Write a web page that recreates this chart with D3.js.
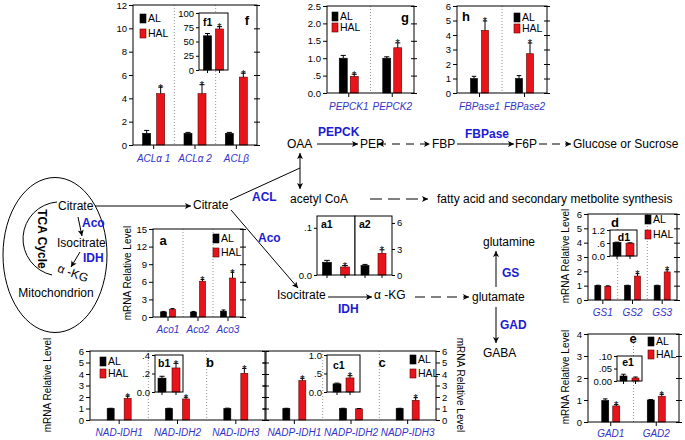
<!DOCTYPE html>
<html><head><meta charset="utf-8">
<script src="https://cdn.jsdelivr.net/npm/d3@7"></script>
<style>body{margin:0;background:#fff}svg{display:block}</style>
</head><body>
<svg id="chart" width="685" height="440"></svg>
<script>
// ---------------- DATA ----------------
const fCats = ["ACLα 1", "ACLα 2", "ACLβ"];
const fAL = [1.0, 1.0, 1.0], fALerr = [0.25, 0.08, 0.08];
const fHAL = [4.4, 4.4, 5.82], fHALerr = [0.57, 0.77, 0.34];
const fSig = [true, true, true];
const fTicks = [0, 2, 4, 6, 8, 10, 12], fTickLabels = ["0", "2", "4", "6", "8", "10", "12"];
const f1AL = [60], f1ALerr = [4], f1HAL = [72], f1HALerr = [4], f1Sig = [true];
const f1Ticks = [0, 25, 50, 75, 100], f1TickLabels = ["0", "25", "50", "75", "100"];

const gCats = ["PEPCK1", "PEPCK2"];
const gAL = [1.0, 1.0], gALerr = [0.08, 0.04];
const gHAL = [0.48, 1.3], gHALerr = [0.06, 0.14], gSig = [true, true];
const gTicks = [0, 0.5, 1, 1.5, 2, 2.5], gTickLabels = ["0.0", ".5", "1.0", "1.5", "2.0", "2.5"];

const hCats = ["FBPase1", "FBPase2"];
const hAL = [1.0, 1.0], hALerr = [0.15, 0.2];
const hHAL = [4.32, 2.71], hHALerr = [0.65, 0.74], hSig = [true, true];
const hTicks = [0, 1, 2, 3, 4, 5, 6], hTickLabels = ["0", "1", "2", "3", "4", "5", "6"];

const aCats = ["Aco1", "Aco2", "Aco3"];
const aAL = [0.87, 0.85, 1.0], aALerr = [0.08, 0.1, 0.2];
const aHAL = [1.33, 6.1, 6.64], aHALerr = [0.1, 0.3, 1.0], aSig = [false, true, true];
const aTicks = [0, 3, 6, 9, 12, 15], aTickLabels = ["0", "3", "6", "9", "12", "15"];

const a1AL = [0.027], a1ALerr = [0.004], a1HAL = [0.017], a1HALerr = [0.003], a1Sig = [true];
const a1Ticks = [0, 0.1], a1TickLabels = ["0.0", ".1"];
const a2AL = [1.1], a2ALerr = [0.12], a2HAL = [2.5], a2HALerr = [0.4], a2Sig = [true];
const a2Ticks = [0, 3, 6], a2TickLabels = ["0", "3", "6"];

const bCats = ["NAD-IDH1", "NAD-IDH2", "NAD-IDH3"];
const bAL = [1.0, 1.0, 1.0], bALerr = [0.02, 0.02, 0.03];
const bHAL = [1.88, 1.83, 4.06], bHALerr = [0.2, 0.15, 0.43], bSig = [true, true, true];
const b1AL = [0.15], b1ALerr = [0.02], b1HAL = [0.26], b1HALerr = [0.05], b1Sig = [true];
const b1Ticks = [0, 0.2, 0.4], b1TickLabels = ["0.0", ".2", ".4"];

const cCats = ["NADP-IDH1", "NADP-IDH2", "NADP-IDH3"];
const cAL = [1.0, 1.0, 1.0], cALerr = [0.02, 0.02, 0.02];
const cHAL = [3.43, 0.97, 1.71], cHALerr = [0.2, 0.03, 0.23], cSig = [true, false, true];
const c1AL = [0.22], c1ALerr = [0.02], c1HAL = [0.38], c1HALerr = [0.06], c1Sig = [true];
const c1Ticks = [0, 0.5, 1], c1TickLabels = ["0.0", ".5", "1.0"];
const bcTicks = [0, 1, 2, 3, 4, 5, 6], bcTickLabels = ["0", "1", "2", "3", "4", "5", "6"];

const dCats = ["GS1", "GS2", "GS3"];
const dAL = [1.0, 1.0, 1.0], dALerr = [0.03, 0.03, 0.03];
const dHAL = [0.96, 1.67, 1.96], dHALerr = [0.03, 0.17, 0.15], dSig = [false, true, true];
const dTicks = [0, 1, 2, 3, 4, 5, 6], dTickLabels = ["0", "1", "2", "3", "4", "5", "6"];
const d1AL = [0.62], d1ALerr = [0.02], d1HAL = [0.59], d1HALerr = [0.02], d1Sig = [false];
const d1Ticks = [0, 0.6, 1.2], d1TickLabels = ["0.0", ".6", "1.2"];

const eCats = ["GAD1", "GAD2"];
const eAL = [0.98, 1.0], eALerr = [0.07, 0.02];
const eHAL = [0.73, 1.17], eHALerr = [0.06, 0.09], eSig = [true, true];
const eTicks = [0, 1, 2, 3, 4], eTickLabels = ["0", "1", "2", "3", "4"];
const e1AL = [0.02], e1ALerr = [0.007], e1HAL = [0.012], e1HALerr = [0.004], e1Sig = [false];
const e1Ticks = [0, 0.05, 0.1], e1TickLabels = ["0.00", ".05", ".10"];

const legendLabels = ["AL", "HAL"];

// ---------------- DRAWING ----------------
const FONT = "'Liberation Sans', Arial, Helvetica, sans-serif";
const RED = "#e8141b", BLUE = "#1b1bd3", GENE = "#3434c8";
const svg = d3.select("#chart").attr("font-family", FONT);

const defs = svg.append("defs");
defs.append("marker").attr("id", "ah").attr("viewBox", "0 0 10 10")
  .attr("refX", 10).attr("refY", 5).attr("markerUnits", "userSpaceOnUse")
  .attr("markerWidth", 8).attr("markerHeight", 6).attr("orient", "auto-start-reverse")
  .append("path").attr("d", "M0,0 L10,5 L0,10 L2.5,5 z").attr("fill", "#000");

function txt(x, y, s, o = {}) {
  const t = svg.append("text").attr("x", x).attr("y", y).attr("dy", "0.35em").text(s)
    .attr("font-size", o.size || 12).attr("fill", o.fill || "#000")
    .attr("text-anchor", o.anchor || "start");
  if (o.bold) t.attr("font-weight", "bold");
  if (o.italic) t.attr("font-style", "italic");
  if (o.rotate != null) t.attr("transform", `rotate(${o.rotate},${x},${y})`);
  return t;
}
function arrow(x1, y1, x2, y2, o = {}) {
  const l = svg.append("line").attr("x1", x1).attr("y1", y1).attr("x2", x2).attr("y2", y2)
    .attr("stroke", "#000").attr("stroke-width", 1);
  if (o.end !== false) l.attr("marker-end", "url(#ah)");
  if (o.start) l.attr("marker-start", "url(#ah)");
  if (o.dash) l.attr("stroke-dasharray", o.dash);
  return l;
}

function drawPanel(p) {
  const g = svg.append("g");
  const x = d3.scaleBand().domain(p.cats).range([p.x0, p.x1]);
  const y = d3.scaleLinear().domain(p.domain).range([p.y1, p.y0]);
  g.append("rect").attr("x", p.x0).attr("y", p.y0).attr("width", p.x1 - p.x0)
    .attr("height", p.y1 - p.y0).attr("fill", "#fff");
  if (p.sep) p.cats.slice(1).forEach(c => {
    g.append("line").attr("x1", x(c)).attr("x2", x(c)).attr("y1", p.y0).attr("y2", p.y1)
      .attr("stroke", "#888").attr("stroke-width", 0.9).attr("stroke-dasharray", "1,2");
  });
  const bw = p.bw;
  function bar(cx, v, e, fill) {
    g.append("rect").attr("x", cx - bw / 2).attr("y", y(v)).attr("width", bw)
      .attr("height", y(0) - y(v)).attr("fill", fill)
      .attr("stroke", fill === RED ? "#5a0000" : "#000").attr("stroke-width", 0.6);
    const top = y(v + e);
    g.append("line").attr("x1", cx).attr("x2", cx).attr("y1", y(v)).attr("y2", top)
      .attr("stroke", "#000").attr("stroke-width", 1);
    g.append("line").attr("x1", cx - bw * 0.32).attr("x2", cx + bw * 0.32).attr("y1", top).attr("y2", top)
      .attr("stroke", "#000").attr("stroke-width", 1);
    return top;
  }
  p.cats.forEach((c, i) => {
    const cx = x(c) + x.bandwidth() / 2;
    bar(cx - p.off, p.al[i], p.alErr[i], "#000");
    const top = bar(cx + p.off, p.hal[i], p.halErr[i], RED);
    if (p.sig[i]) g.append("text").attr("x", cx + p.off).attr("y", top + 4.5).attr("text-anchor", "middle")
      .attr("font-size", 11).text("*");
    if (p.inset) {
      [cx - p.off, cx + p.off].forEach(tx => g.append("line").attr("x1", tx).attr("x2", tx)
        .attr("y1", p.y1).attr("y2", p.y1 + 3).attr("stroke", "#000"));
    }
    if (p.labelY != null) g.append("text").attr("x", cx).attr("y", p.labelY).attr("dy", "0.35em")
      .attr("text-anchor", "middle").attr("font-size", 10).attr("font-style", "italic")
      .attr("fill", GENE).text(c);
  });
  g.append("rect").attr("x", p.x0).attr("y", p.y0).attr("width", p.x1 - p.x0)
    .attr("height", p.y1 - p.y0).attr("fill", "none").attr("stroke", "#000").attr("stroke-width", 1);
  const isRight = p.side === "right";
  const ax = g.append("g").attr("transform", `translate(${isRight ? p.x1 : p.x0},0)`)
    .call((isRight ? d3.axisRight(y) : d3.axisLeft(y)).tickValues(p.ticks)
      .tickFormat((d, i) => p.tickLabels[i]).tickSize(p.inset ? 3 : 4).tickPadding(2));
  ax.select(".domain").remove();
  ax.attr("font-family", FONT).attr("font-size", p.fs || 9.5);
  if (p.opp) {
    const ox = isRight ? p.x0 : p.x1;
    [d3.axisLeft, d3.axisRight].forEach(fn => {
      const o = g.append("g").attr("transform", `translate(${ox},0)`)
        .call(fn(y).tickValues(p.ticks).tickFormat("").tickSize(3));
      o.select(".domain").remove();
    });
  }
  if (!p.inset) {
    const bx = g.append("g").attr("transform", `translate(0,${p.y1})`)
      .call(d3.axisBottom(x).tickSize(4).tickFormat(""));
    bx.select(".domain").remove();
  }
  if (p.letter) g.append("text").attr("x", p.lx).attr("y", p.ly).attr("dy", "0.35em")
    .attr("text-anchor", p.lanchor || "middle").attr("font-weight", "bold")
    .attr("font-size", p.inset ? 10.5 : 13).text(p.letter);
  if (p.legend) {
    legendLabels.forEach((lab, i) => {
      const ly = p.legend[1] + i * p.legend[2];
      g.append("rect").attr("x", p.legend[0]).attr("y", ly).attr("width", 6).attr("height", 9)
        .attr("fill", i ? RED : "#000").attr("stroke", i ? "#5a0000" : "#000").attr("stroke-width", 0.6);
      g.append("text").attr("x", p.legend[0] + 8).attr("y", ly + 4.5).attr("dy", "0.35em")
        .attr("font-size", 10.5).text(lab);
    });
  }
}

// ---- main chart panels ----
drawPanel({cats: fCats, al: fAL, alErr: fALerr, hal: fHAL, halErr: fHALerr, sig: fSig,
  x0: 133, x1: 257, y0: 5, y1: 145, domain: [0, 12], ticks: fTicks, tickLabels: fTickLabels,
  bw: 8, off: 7, sep: true, opp: true, labelY: 158, letter: "f", lx: 247, ly: 20, legend: [140, 14, 15]});
drawPanel({cats: [""], al: f1AL, alErr: f1ALerr, hal: f1HAL, halErr: f1HALerr, sig: f1Sig,
  x0: 199, x1: 228, y0: 13, y1: 70, domain: [0, 100], ticks: f1Ticks, tickLabels: f1TickLabels,
  bw: 8, off: 6, inset: true, letter: "f1", lx: 203, ly: 22, lanchor: "start"});

drawPanel({cats: gCats, al: gAL, alErr: gALerr, hal: gHAL, halErr: gHALerr, sig: gSig,
  x0: 327, x1: 414, y0: 6, y1: 93, domain: [0, 2.5], ticks: gTicks, tickLabels: gTickLabels,
  bw: 8, off: 5.5, sep: true, opp: true, labelY: 106, letter: "g", lx: 405, ly: 17, legend: [332, 12, 11]});

drawPanel({cats: hCats, al: hAL, alErr: hALerr, hal: hHAL, halErr: hHALerr, sig: hSig,
  x0: 457, x1: 547, y0: 6, y1: 93, domain: [0, 6], ticks: hTicks, tickLabels: hTickLabels,
  bw: 7, off: 5.5, sep: true, opp: true, labelY: 106, letter: "h", lx: 466, ly: 16, legend: [514, 13, 11]});

drawPanel({cats: aCats, al: aAL, alErr: aALerr, hal: aHAL, halErr: aHALerr, sig: aSig,
  x0: 153, x1: 243, y0: 229, y1: 317, domain: [0, 15], ticks: aTicks, tickLabels: aTickLabels,
  bw: 6, off: 4.5, sep: true, opp: true, labelY: 329, letter: "a", lx: 163, ly: 240, legend: [213, 234, 14]});

drawPanel({cats: ["a1"], al: a1AL, alErr: a1ALerr, hal: a1HAL, halErr: a1HALerr, sig: a1Sig,
  x0: 317, x1: 355, y0: 216, y1: 275, domain: [0, 0.125], ticks: a1Ticks, tickLabels: a1TickLabels,
  bw: 9, off: 9, inset: true, letter: "a1", lx: 321, ly: 224, lanchor: "start"});
drawPanel({cats: ["a2"], al: a2AL, alErr: a2ALerr, hal: a2HAL, halErr: a2HALerr, sig: a2Sig, side: "right",
  x0: 355, x1: 392, y0: 216, y1: 275, domain: [0, 6.8], ticks: a2Ticks, tickLabels: a2TickLabels,
  bw: 8, off: 8.5, inset: true, letter: "a2", lx: 359, ly: 224, lanchor: "start"});

drawPanel({cats: bCats, al: bAL, alErr: bALerr, hal: bHAL, halErr: bHALerr, sig: bSig,
  x0: 90, x1: 265, y0: 351, y1: 420, domain: [0, 6], ticks: bcTicks, tickLabels: bcTickLabels,
  bw: 7, off: 8.5, sep: true, opp: true, labelY: 432, letter: "b", lx: 210, ly: 362, legend: [100, 357, 12]});
drawPanel({cats: [""], al: b1AL, alErr: b1ALerr, hal: b1HAL, halErr: b1HALerr, sig: b1Sig,
  x0: 155, x1: 183, y0: 355, y1: 392, domain: [0, 0.4], ticks: b1Ticks, tickLabels: b1TickLabels,
  bw: 8, off: 7, inset: true, letter: "b1", lx: 158, ly: 363, lanchor: "start"});

drawPanel({cats: cCats, al: cAL, alErr: cALerr, hal: cHAL, halErr: cHALerr, sig: cSig, side: "right",
  x0: 266, x1: 436, y0: 351, y1: 420, domain: [0, 6], ticks: bcTicks, tickLabels: bcTickLabels,
  bw: 7, off: 8, sep: true, opp: true, labelY: 432, letter: "c", lx: 382, ly: 362, legend: [410, 355, 14]});
drawPanel({cats: [""], al: c1AL, alErr: c1ALerr, hal: c1HAL, halErr: c1HALerr, sig: c1Sig,
  x0: 327, x1: 360, y0: 355, y1: 392, domain: [0, 1], ticks: c1Ticks, tickLabels: c1TickLabels,
  bw: 8, off: 6.5, inset: true, letter: "c1", lx: 333, ly: 365, lanchor: "start"});

drawPanel({cats: dCats, al: dAL, alErr: dALerr, hal: dHAL, halErr: dHALerr, sig: dSig,
  x0: 588, x1: 677, y0: 214, y1: 300, domain: [0, 6], ticks: dTicks, tickLabels: dTickLabels,
  bw: 6, off: 5, sep: true, opp: true, labelY: 312, letter: "d", lx: 615, ly: 222, legend: [645, 215, 15]});
drawPanel({cats: [""], al: d1AL, alErr: d1ALerr, hal: d1HAL, halErr: d1HALerr, sig: d1Sig,
  x0: 610, x1: 637, y0: 230, y1: 256, domain: [0, 1.2], ticks: d1Ticks, tickLabels: d1TickLabels,
  bw: 8, off: 6.5, inset: true, letter: "d1", lx: 624, ly: 237});

drawPanel({cats: eCats, al: eAL, alErr: eALerr, hal: eHAL, halErr: eHALerr, sig: eSig,
  x0: 588, x1: 679, y0: 334, y1: 422, domain: [0, 4], ticks: eTicks, tickLabels: eTickLabels,
  bw: 7, off: 5.5, sep: true, opp: true, labelY: 433, letter: "e", lx: 633, ly: 338, legend: [648, 337, 13]});
drawPanel({cats: [""], al: e1AL, alErr: e1ALerr, hal: e1HAL, halErr: e1HALerr, sig: e1Sig,
  x0: 617, x1: 642, y0: 356, y1: 381, domain: [0, 0.1], ticks: e1Ticks, tickLabels: e1TickLabels,
  bw: 7, off: 6, inset: true, letter: "e1", lx: 628, ly: 362});

// y titles
txt(127, 273, "mRNA Relative Level", {size: 10, anchor: "middle", rotate: -90});
txt(47, 385, "mRNA Relative Level", {size: 10, anchor: "middle", rotate: -90});
txt(460, 385, "mRNA Relative Level", {size: 10, anchor: "middle", rotate: 90});
txt(565, 256, "mRNA Relative Level", {size: 10, anchor: "middle", rotate: -90});
txt(565, 377, "mRNA Relative Level", {size: 10, anchor: "middle", rotate: -90});

// ---- pathway diagram ----
svg.append("ellipse").attr("cx", 55).attr("cy", 255).attr("rx", 52).attr("ry", 77.5)
  .attr("fill", "none").attr("stroke", "#000").attr("stroke-width", 1);
svg.append("path").attr("d", "M57,202 A37,37 0 0 0 52,275").attr("fill", "none").attr("stroke", "#000");
txt(42, 239, "TCA Cycle", {size: 12, bold: true, anchor: "middle", rotate: 90});
txt(58, 206, "Citrate");
arrow(78, 217, 82, 236);
txt(82, 223, "Aco", {bold: true, fill: BLUE});
txt(57, 243, "Isocitrate");
arrow(80, 252, 71, 267);
txt(83, 258, "IDH", {bold: true, fill: BLUE});
txt(73, 273, "α -KG", {anchor: "middle", rotate: 20});
txt(56, 293, "Mitochondrion", {anchor: "middle"});

arrow(95, 206, 191, 206);
txt(193, 205, "Citrate");
svg.append("line").attr("x1", 230).attr("y1", 200).attr("x2", 300).attr("y2", 168).attr("stroke", "#000");
txt(252, 197, "ACL", {bold: true, fill: BLUE});
arrow(300, 170, 300, 153, {});
arrow(300, 170, 300, 189, {});
txt(287, 144, "OAA");
txt(290, 199, "acetyl CoA");
arrow(317, 144, 358, 144);
txt(318, 132, "PEPCK", {bold: true, fill: BLUE});
txt(360, 144, "PEP");
arrow(378, 144, 430, 144, {start: true, dash: "8,6"});
txt(432, 144, "FBP");
arrow(457, 144, 514, 144);
txt(465, 134, "FBPase", {bold: true, fill: BLUE});
txt(515, 144, "F6P");
arrow(539, 144, 571, 144, {dash: "8,5"});
txt(573, 144, "Glucose or Sucrose");
arrow(370, 199, 428, 199, {dash: "12,6"});
txt(437, 199, "fatty acid and secondary metbolite synthesis");

arrow(231, 210, 298, 288);
txt(258, 238, "Aco", {bold: true, fill: BLUE});
txt(277, 295, "Isocitrate");
arrow(328, 297, 372, 297);
txt(338, 309, "IDH", {bold: true, fill: BLUE});
txt(374, 295, "α -KG");
arrow(415, 297, 469, 297, {dash: "10,6"});
txt(472, 297, "glutamate");
arrow(496, 287, 496, 251);
txt(483, 242, "glutamine");
txt(502, 273, "GS", {bold: true, fill: BLUE});
arrow(496, 307, 496, 343);
txt(500, 325, "GAD", {bold: true, fill: BLUE});
txt(483, 353, "GABA");
</script>
</body></html>
